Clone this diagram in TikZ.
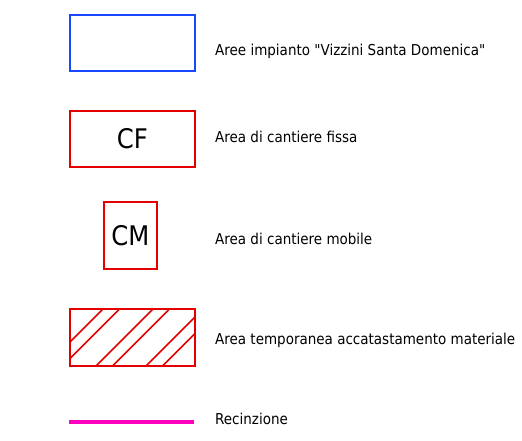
\documentclass[tikz,border=0pt]{standalone}
\usepackage{fontspec}
\setmainfont{DejaVu Sans Condensed}[Ligatures=TeXOff]
\definecolor{areablue}{RGB}{25,70,255}
\definecolor{cantred}{RGB}{228,0,0}
\definecolor{fencepink}{RGB}{255,0,190}
\tikzset{
  legbox/.style={draw=cantred, line width=1.6pt, anchor=north west, inner sep=0pt},
  legtext/.style={anchor=base west, inner sep=0pt, font=\fontsize{15}{18}\selectfont},
  boxtext/.style={font=\fontsize{27}{30}\selectfont}
}
\begin{document}
\begin{tikzpicture}[x=1pt,y=-1pt]
\useasboundingbox[fill=white] (0,0) rectangle (522,440);
% blue
\node[legbox, draw=areablue, line width=2pt, minimum width=125pt, minimum height=56pt] (aree) at (69,14) {};
\node[legtext] (t1) at (215,55) {Aree impianto "Vizzini Santa Domenica"};
% CF
\node[legbox, minimum width=125pt, minimum height=56pt] (cf) at (69,110) {};
\node[boxtext] at (cf.center) {CF};
\node[legtext] (t2) at (215,142) {Area di cantiere fissa};
% CM
\node[legbox, minimum width=53pt, minimum height=67pt] (cm) at (103,201) {};
\node[boxtext] at (cm.center) {CM};
\node[legtext] (t3) at (215,244) {Area di cantiere mobile};
% hatched
\node[legbox, minimum width=125pt, minimum height=57pt] (hat) at (69,308) {};
\begin{scope}
  \clip (hat.north west) rectangle (hat.south east);
  \foreach \c in {412,428.5,462,478.5,512,528.5}{
    \draw[cantred, line width=1.6pt] (\c-300,300) -- (\c-375,375);
  }
\end{scope}
\node[legtext] (t4) at (215,344) {Area temporanea accatastamento materiale};
% fence
\coordinate (f1) at (69,422);
\coordinate (f2) at (194,422);
\draw[fencepink, line width=3.2pt] (f1) -- (f2);
\node[legtext] (t5) at (215,424) {Recinzione};
\end{tikzpicture}
\end{document}
